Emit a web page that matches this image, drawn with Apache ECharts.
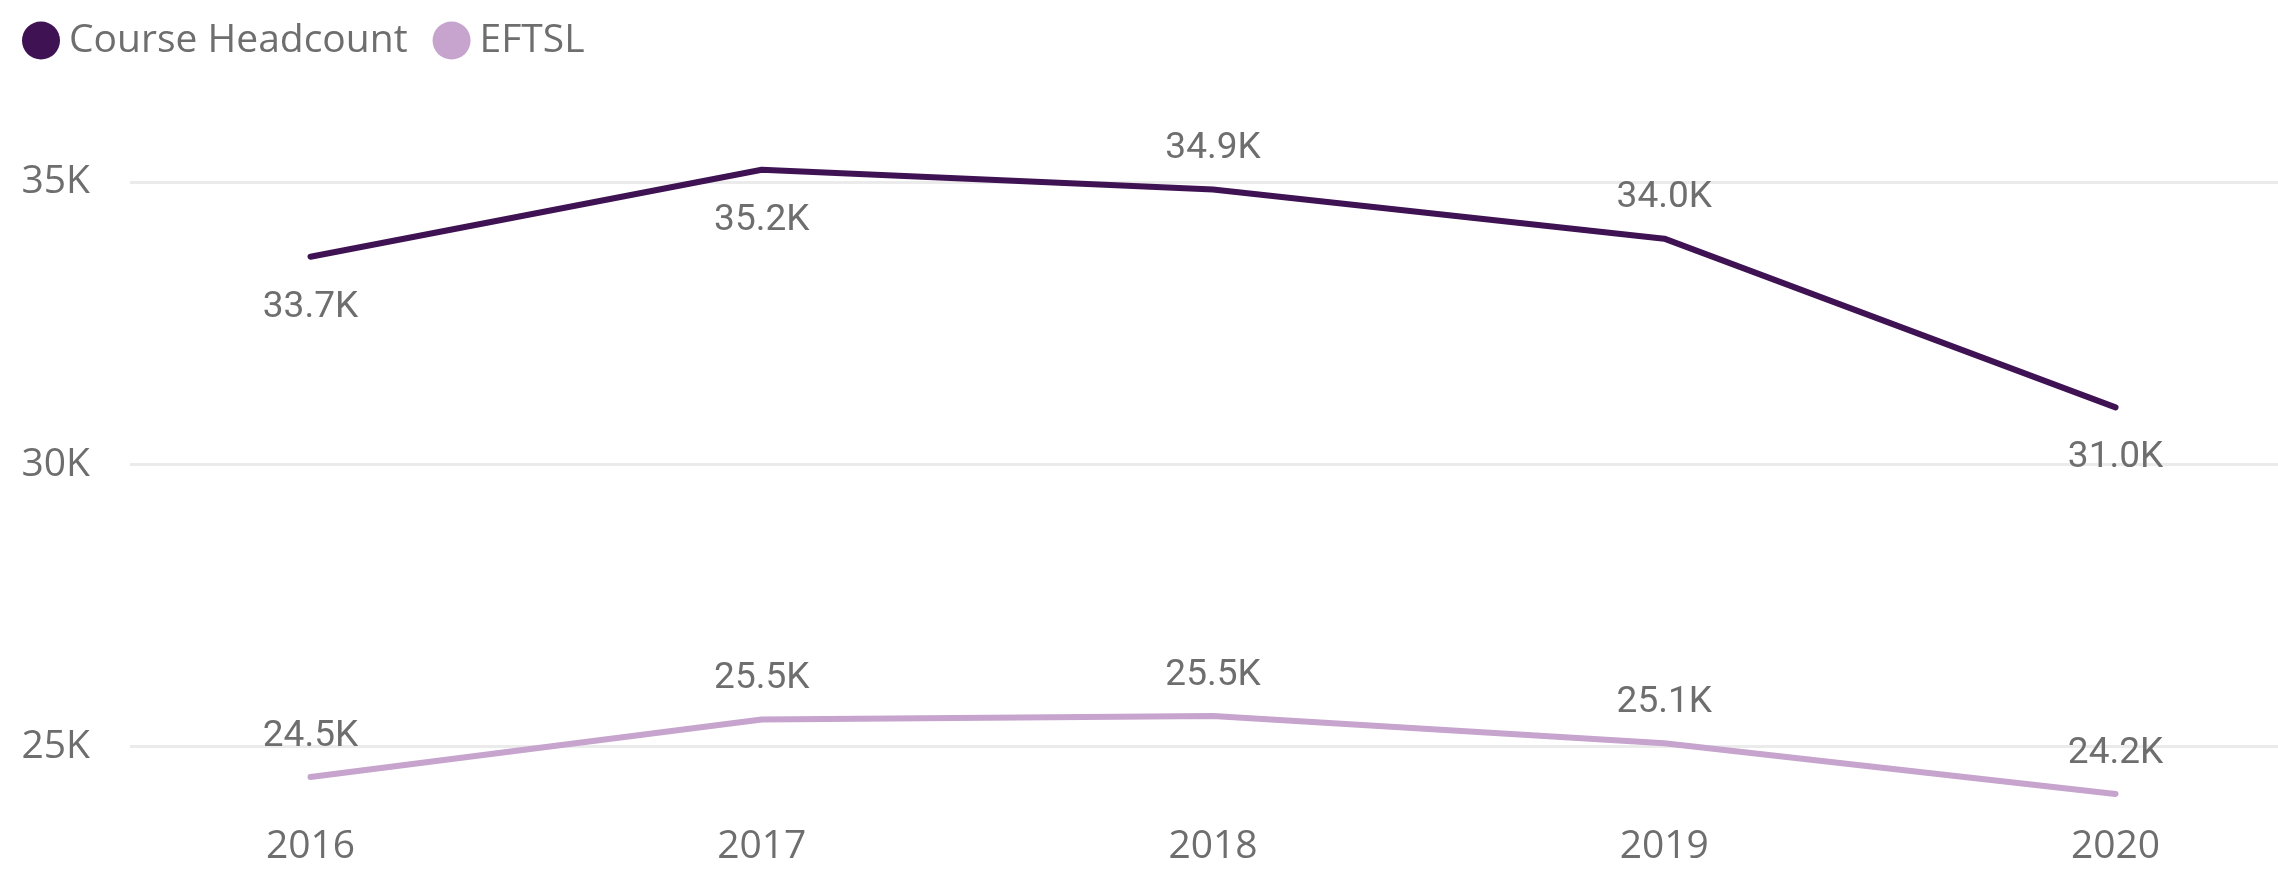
<!DOCTYPE html>
<html>
<head>
<meta charset="utf-8">
<title>Course Headcount and EFTSL</title>
<script src="https://cdn.jsdelivr.net/npm/echarts@6/dist/echarts.min.js"></script>
<style>
  html, body { margin: 0; padding: 0; background: #fff; }
  #chart { width: 2278px; height: 871px; }
</style>
</head>
<body>
<div id="chart"></div>
<script>
  // data
  const years = [2016, 2017, 2018, 2019, 2020]
  const headcount = [33680, 35220, 34870, 34000, 31010]
  const eftsl = [24460, 25480, 25540, 25060, 24160]
  const yTicks = [25000, 30000, 35000]

  // where the value labels sit (above / below the point)
  const headcountLabelPos = ['bottom', 'bottom', 'top', 'top', 'bottom']
  const eftslLabelPos = ['top', 'top', 'top', 'top', 'top']

  const grey = '#6e6e6e'
  const uiFont = '"Open Sans", "Noto Sans", sans-serif'
  const labelFont = 'Roboto, "Noto Sans", sans-serif'

  function fmtK(v) {
    return (v / 1000).toFixed(1) + 'K'
  }

  // 把数组拼成 [x, y] 点，并按位置给标签
  function buildPoints(values, positions) {
    return values.map((v, i) => {
      return {
        value: [years[i], v],
        label: {
          position: positions[i],
          distance: positions[i] === 'top' ? 22 : 32
        }
      }
    })
  }

  function lineSeries(name, color, values, positions) {
    return {
      name: name,
      type: 'line',
      data: buildPoints(values, positions),
      showSymbol: true,
      symbol: 'circle',
      symbolSize: 0.1,
      color: color,
      lineStyle: { width: 6, cap: 'round', join: 'round' },
      label: {
        show: true,
        formatter: p => fmtK(p.value[1]),
        fontFamily: labelFont,
        fontSize: 37,
        color: grey
      }
    }
  }

  const chart = echarts.init(document.getElementById('chart'))
  const option = {
    backgroundColor: '#ffffff',
    animation: false,
    legend: {
      left: 17,
      top: 16,
      icon: 'circle',
      itemWidth: 38,
      itemHeight: 38,
      itemGap: 25,
      textStyle: {
        fontFamily: uiFont,
        fontSize: 39,
        color: grey,
        padding: [0, 0, 0, 4]
      },
      data: ['Course Headcount', 'EFTSL']
    },
    grid: {
      left: 130,
      right: 0,
      top: 154,
      bottom: 68
    },
    xAxis: {
      type: 'value',
      min: 2015.6,
      max: 2020.36,
      axisLine: { show: false },
      axisTick: { show: false },
      splitLine: { show: false },
      axisLabel: {
        customValues: years,
        formatter: v => String(v),
        fontFamily: uiFont,
        fontSize: 39,
        color: grey,
        margin: 24
      }
    },
    yAxis: {
      type: 'value',
      min: 24000,
      max: 35500,
      axisLine: { show: false },
      axisTick: { show: false, customValues: yTicks },
      axisLabel: {
        customValues: yTicks,
        formatter: v => (v / 1000) + 'K',
        fontFamily: uiFont,
        fontSize: 39,
        color: grey,
        margin: 40
      },
      splitLine: {
        show: true,
        lineStyle: { color: '#ebebeb', width: 3 }
      }
    },
    series: [
      lineSeries('Course Headcount', '#3f1253', headcount, headcountLabelPos),
      lineSeries('EFTSL', '#c6a4cd', eftsl, eftslLabelPos)
    ]
  }
  chart.setOption(option)
</script>
</body>
</html>
